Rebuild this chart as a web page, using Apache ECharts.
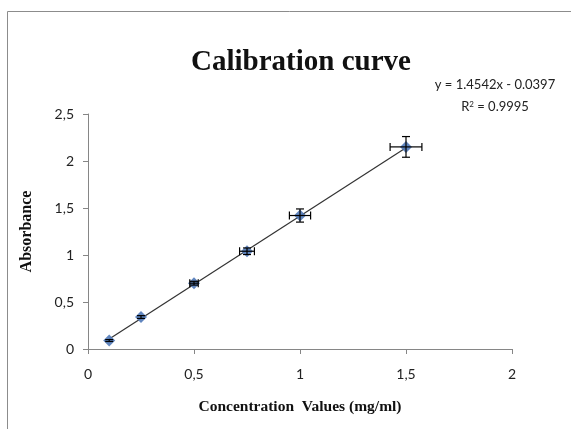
<!DOCTYPE html>
<html>
<head>
<meta charset="utf-8">
<script src="https://cdn.jsdelivr.net/npm/echarts@6/dist/echarts.min.js"></script>
<style>
html,body{margin:0;padding:0;background:#fff;}
#c{width:571px;height:429px;}
</style>
</head>
<body>
<div id="c"></div>
<script>
var concentration = [0.1, 0.25, 0.5, 0.75, 1.0, 1.5];
var absorbance = [0.09, 0.34, 0.70, 1.04, 1.42, 2.15];
var xError = [0.0, 0.0, 0.02, 0.035, 0.05, 0.075];
var yError = [0.01, 0.015, 0.02, 0.035, 0.07, 0.11];
var slope = 1.4542;
var intercept = -0.0397;
var equationLines = ['y = 1.4542x - 0.0397', 'R{sup|2} = 0.9995'];

var chart = echarts.init(document.getElementById('c'), null, {renderer: 'canvas'});

var points = concentration.map(function (x, i) { return [x, absorbance[i]]; });
var errData = concentration.map(function (x, i) { return [x, absorbance[i], xError[i], yError[i]]; });
var xFirst = concentration[0], xLast = concentration[concentration.length - 1];
var trend = [[xFirst, slope * xFirst + intercept], [xLast, slope * xLast + intercept]];

function fmt(v) { return String(v).replace('.', ','); }

var tickFont = {fontFamily: 'Lato', fontSize: 14, color: '#222'};

chart.setOption({
  animation: false,
  backgroundColor: '#fff',
  title: {
    text: 'Calibration curve',
    left: 296, top: 43, textAlign: 'center',
    textStyle: {fontFamily: 'Liberation Serif', fontWeight: 'bold', fontSize: 29, color: '#111'}
  },
  graphic: [
    {type: 'rect', shape: {x: 7.5, y: 11.5, width: 570, height: 425},
     style: {fill: 'none', stroke: '#8c8c8c', lineWidth: 1}, silent: true},
    {type: 'text', x: 495, y: 78,
     style: {text: equationLines[0], fontFamily: 'Lato', fontSize: 13, fill: '#222', align: 'center'}},
    {type: 'text', x: 495, y: 100,
     style: {text: equationLines[1], fontFamily: 'Lato', fontSize: 13, fill: '#222', align: 'center',
             rich: {sup: {fontSize: 8, verticalAlign: 'top', padding: [0, 0, 6, 0], fontFamily: 'Lato', fill: '#222'}}}}
  ],
  grid: {left: 88, right: 59, top: 114, bottom: 80},
  xAxis: {
    type: 'value', min: 0, max: 2, interval: 0.5,
    name: 'Concentration  Values (mg/ml)', nameLocation: 'middle', nameGap: 50,
    nameTextStyle: {fontFamily: 'Liberation Serif', fontWeight: 'bold', fontSize: 15.5, color: '#111'},
    axisLine: {lineStyle: {color: '#868686'}},
    axisTick: {show: true, inside: false, length: 5, lineStyle: {color: '#868686'}},
    axisLabel: Object.assign({margin: 18, formatter: fmt}, tickFont),
    splitLine: {show: false}
  },
  yAxis: {
    type: 'value', min: 0, max: 2.5, interval: 0.5,
    name: 'Absorbance', nameLocation: 'middle', nameGap: 53, nameRotate: 90,
    nameTextStyle: {fontFamily: 'Liberation Serif', fontWeight: 'bold', fontSize: 16, color: '#111'},
    axisLine: {show: true, lineStyle: {color: '#868686'}},
    axisTick: {show: true, inside: false, length: 5, lineStyle: {color: '#868686'}},
    axisLabel: Object.assign({margin: 14, formatter: fmt}, tickFont),
    splitLine: {show: false}
  },
  series: [
    {
      type: 'line', data: trend, symbol: 'none', z: 2,
      lineStyle: {color: '#333', width: 1.2}
    },
    {
      type: 'custom', z: 4, data: errData,
      renderItem: function (params, api) {
        var x = api.value(0), y = api.value(1), ex = api.value(2), ey = api.value(3);
        var c = api.coord([x, y]);
        var children = [];
        var cap = 4;
        var st = {stroke: '#000', lineWidth: 1.2};
        if (ey > 0) {
          var t = api.coord([x, y + ey]), b = api.coord([x, y - ey]);
          children.push({type: 'line', shape: {x1: c[0], y1: t[1], x2: c[0], y2: b[1]}, style: st});
          children.push({type: 'line', shape: {x1: c[0] - cap, y1: t[1], x2: c[0] + cap, y2: t[1]}, style: st});
          children.push({type: 'line', shape: {x1: c[0] - cap, y1: b[1], x2: c[0] + cap, y2: b[1]}, style: st});
        }
        if (ex > 0) {
          var l = api.coord([x - ex, y]), r = api.coord([x + ex, y]);
          children.push({type: 'line', shape: {x1: l[0], y1: c[1], x2: r[0], y2: c[1]}, style: st});
          children.push({type: 'line', shape: {x1: l[0], y1: c[1] - cap, x2: l[0], y2: c[1] + cap}, style: st});
          children.push({type: 'line', shape: {x1: r[0], y1: c[1] - cap, x2: r[0], y2: c[1] + cap}, style: st});
        }
        return {type: 'group', children: children};
      }
    },
    {
      type: 'scatter', data: points, symbol: 'diamond', symbolSize: 12, z: 3,
      itemStyle: {color: '#5079B8', opacity: 0.9}
    }
  ]
});
</script>
</body>
</html>
